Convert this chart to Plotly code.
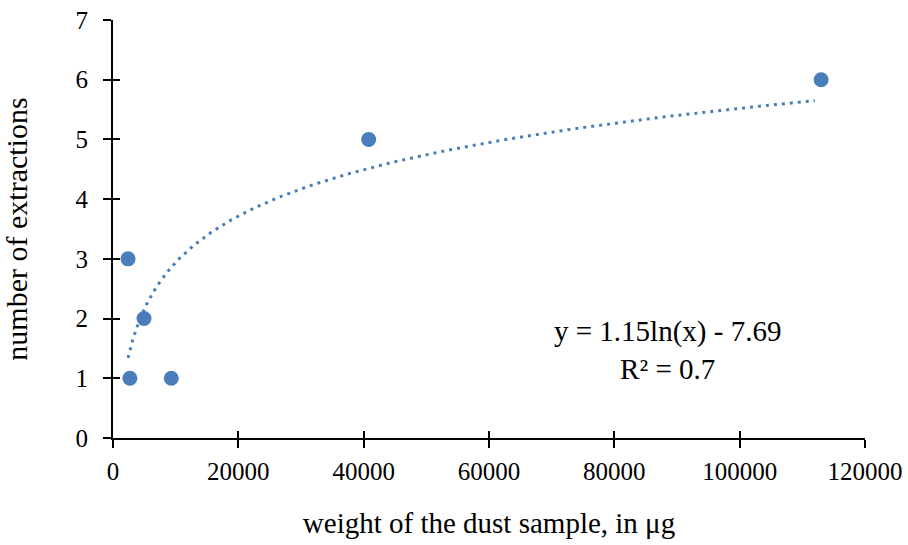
import numpy as np
import plotly.graph_objects as go

# data
weight_ug = [2400, 2700, 4950, 9300, 40800, 113000]
extractions = [3, 1, 2, 1, 5, 6]
x_ticks = [0, 20000, 40000, 60000, 80000, 100000, 120000]
y_ticks = [0, 1, 2, 3, 4, 5, 6, 7]
eq_text = "y = 1.15ln(x) - 7.69<br>R² = 0.7"

# logarithmic trendline fitted to the data
slope, intercept = np.polyfit(np.log(weight_ug), extractions, 1)
tx = np.geomspace(min(weight_ug), 112000, 200)
ty = slope * np.log(tx) + intercept

color = "#4A7EBB"
font = "Liberation Serif, Times New Roman, serif"

fig = go.Figure()
fig.add_trace(go.Scatter(x=tx, y=ty, mode="lines",
                         line=dict(color=color, width=3, dash="3px,5px"),
                         hoverinfo="skip", showlegend=False))
fig.add_trace(go.Scatter(x=weight_ug, y=extractions, mode="markers",
                         marker=dict(color=color, size=15), showlegend=False))
# invisible trace on overlay axes for crossing ticks
fig.add_trace(go.Scatter(x=[0], y=[0], xaxis="x2", yaxis="y2", mode="markers",
                         marker=dict(opacity=0), showlegend=False, hoverinfo="skip"))

fig.update_layout(
    width=908, height=545,
    margin=dict(l=113, r=43, t=20, b=107),
    paper_bgcolor="white", plot_bgcolor="white",
    font=dict(family=font, size=25, color="black"),
    xaxis=dict(range=[0, 120000], tickvals=x_ticks, ticktext=[str(v) for v in x_ticks],
               showgrid=False, zeroline=False, showline=True, linecolor="black", linewidth=2,
               ticks="outside", ticklen=8, tickwidth=2, tickcolor="black",
               ticklabelstandoff=2, automargin=False, ticklabeloverflow="allow",
               title=dict(text="weight of the dust sample, in μg", standoff=29,
                          font=dict(size=29))),
    yaxis=dict(range=[0, 7], tickvals=y_ticks,
               showgrid=False, zeroline=False, showline=True, linecolor="black", linewidth=2,
               ticks="outside", ticklen=8, tickwidth=2, tickcolor="black",
               ticklabelstandoff=10, automargin=False, ticklabeloverflow="allow",
               title=dict(text="number of extractions", standoff=42, font=dict(size=30))),
    xaxis2=dict(range=[0, 120000], tickvals=x_ticks, overlaying="x", anchor="y",
                side="bottom", showticklabels=False, showgrid=False, zeroline=False,
                ticks="inside", ticklen=7, tickwidth=2, tickcolor="black", automargin=False),
    yaxis2=dict(range=[0, 7], tickvals=y_ticks, overlaying="y", anchor="x",
                side="left", showticklabels=False, showgrid=False, zeroline=False,
                ticks="inside", ticklen=7, tickwidth=2, tickcolor="black", automargin=False),
    annotations=[dict(x=0.737, y=1.47, xref="paper", yref="y", text=eq_text,
                      showarrow=False, align="center", font=dict(size=29),
                      xanchor="center", yanchor="middle")],
)

fig.write_html("out.html", config={"displayModeBar": False},
               post_script="document.body.style.margin='0';")
